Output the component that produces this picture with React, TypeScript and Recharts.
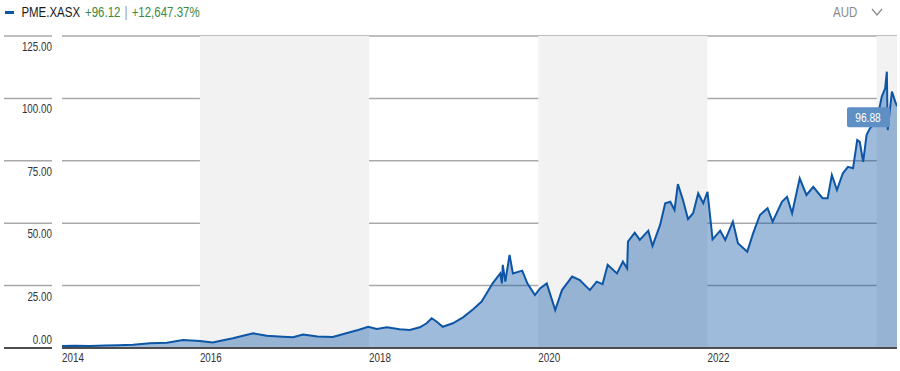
import React from "react";
import {
  AreaChart,
  Area,
  XAxis,
  YAxis,
  CartesianGrid,
  ReferenceArea,
  ReferenceDot,
} from "recharts";

// Decimal-year dates and closing prices (AUD)
const years: number[] = [
  2014.37, 2014.52, 2014.7, 2014.88, 2015.03, 2015.21, 2015.41, 2015.61, 2015.8,
  2016.0, 2016.15, 2016.39, 2016.63, 2016.79, 2016.98, 2017.1, 2017.22, 2017.39,
  2017.57, 2017.74, 2017.87, 2017.99, 2018.09, 2018.21, 2018.36, 2018.48,
  2018.6, 2018.68, 2018.74, 2018.8, 2018.87, 2018.99, 2019.11, 2019.23, 2019.33,
  2019.39, 2019.46, 2019.55, 2019.57, 2019.58, 2019.61, 2019.66, 2019.7,
  2019.81, 2019.87, 2019.96, 2020.02, 2020.1, 2020.2, 2020.28, 2020.4, 2020.49,
  2020.61, 2020.69, 2020.76, 2020.82, 2020.93, 2021.0, 2021.05, 2021.06,
  2021.14, 2021.2, 2021.3, 2021.35, 2021.44, 2021.5, 2021.56, 2021.61, 2021.65,
  2021.71, 2021.77, 2021.83, 2021.89, 2021.95, 2022.0, 2022.06, 2022.15,
  2022.21, 2022.3, 2022.36, 2022.47, 2022.54, 2022.62, 2022.71, 2022.77,
  2022.88, 2022.94, 2023.0, 2023.09, 2023.17, 2023.25, 2023.36, 2023.42,
  2023.47, 2023.53, 2023.6, 2023.66, 2023.72, 2023.77, 2023.8, 2023.84, 2023.88,
  2023.92, 2024.0, 2024.06, 2024.1, 2024.12, 2024.13, 2024.16, 2024.18, 2024.22,
  2024.24,
];

const prices: number[] = [
  0.76, 0.9, 0.8, 1.0, 1.1, 1.3, 1.9, 2.1, 3.2,
  2.8, 2.2, 3.9, 5.9, 4.9, 4.5, 4.3, 5.4, 4.6,
  4.4, 6.0, 7.2, 8.5, 7.6, 8.3, 7.5, 7.2,
  8.3, 9.9, 11.9, 10.5, 8.5, 9.9, 12.3, 15.5, 18.6,
  21.9, 25.9, 29.9, 25.9, 33.3, 26.6, 37.3, 29.9,
  31.0, 25.9, 21.2, 23.9, 25.9, 15.2, 23.2, 28.6, 27.2,
  23.2, 26.6, 25.6, 33.3, 29.9, 34.6, 31.9, 42.6,
  46.2, 43.3, 47.0, 40.9, 49.3, 58.0, 58.6, 55.3, 65.7,
  59.3, 51.6, 54.0, 62.0, 58.0, 62.6, 43.5, 47.0,
  43.3, 50.6, 42.0, 38.6, 46.0, 53.3, 56.0, 50.6,
  58.6, 60.6, 54.0, 68.0, 61.3, 64.6, 60.0, 60.0,
  69.3, 63.3, 70.0, 72.6, 72.0, 83.3, 82.6, 74.6, 85.3,
  88.0, 90.7, 100.7, 104.0, 110.7, 87.3, 96.7, 102.7, 98.6,
  96.88,
];

const yTicks: number[] = [0, 25, 50, 75, 100, 125];
const xTicks: number[] = [2014.37, 2016, 2018, 2020, 2022];
const xTickLabels: string[] = ["2014", "2016", "2018", "2020", "2022"];
const shadedBands: [number, number][] = [
  [2016, 2018],
  [2020, 2022],
  [2024, 2024.24],
];

const ticker = "PME.XASX";
const changeAbs = "+96.12";
const changePct = "+12,647.37%";
const currency = "AUD";

const data = years.map((t, i) => ({ t, price: prices[i] }));
const last = data[data.length - 1];

const FONT = "'Liberation Sans', Arial, sans-serif";
const SX = 0.82; // horizontal squeeze to mimic a narrow face
const LINE = "#0d56a6";

const NarrowText = ({ x, y, anchor, size, fill, children }: any) => (
  <text
    transform={`translate(${x},${y}) scale(${SX},1)`}
    textAnchor={anchor}
    fontSize={size}
    fill={fill}
    fontFamily={FONT}
  >
    {children}
  </text>
);

const YTick = (props: any) => {
  const { y, payload } = props;
  const isZero = payload.value === 0;
  return (
    <g>
      <line
        x1={4}
        x2={52}
        y1={y}
        y2={y}
        stroke={isZero ? "#4d4d4d" : "#a9a9a9"}
        strokeWidth={isZero ? 2 : 1.5}
      />
      <NarrowText x={52} y={isZero ? y - 4 : y + 15} anchor="end" size={12} fill="#333">
        {payload.value.toFixed(2)}
      </NarrowText>
    </g>
  );
};

const XTick = (props: any) => {
  const { x, payload } = props;
  const idx = xTicks.indexOf(payload.value);
  return (
    <NarrowText x={x} y={362} anchor="start" size={12} fill="#333">
      {xTickLabels[idx]}
    </NarrowText>
  );
};

const LastBox = (props: any) => {
  const { cx, cy } = props;
  return (
    <g>
      <rect x={cx - 50} y={cy + 1} width={43} height={20} rx={2} fill="#5e8fc5" />
      <NarrowText x={cx - 29} y={cy + 15.5} anchor="middle" size={12.5} fill="#ffffff">
        {last.price.toFixed(2)}
      </NarrowText>
    </g>
  );
};

export default function App() {
  return (
    <div
      style={{
        position: "absolute",
        left: 0,
        top: 0,
        width: 900,
        height: 371,
        background: "#fff",
        overflow: "hidden",
        fontFamily: FONT,
      }}
    >
      <div
        style={{
          position: "absolute",
          left: 5,
          top: 3,
          height: 18,
          display: "flex",
          alignItems: "center",
          fontSize: 14,
          whiteSpace: "nowrap",
          transform: `scaleX(${SX})`,
          transformOrigin: "0 0",
        }}
      >
        <span
          style={{
            display: "inline-block",
            width: 11,
            height: 3,
            background: LINE,
            marginRight: 9,
          }}
        />
        <span style={{ color: "#1a1a1a", marginRight: 6 }}>{ticker}</span>
        <span style={{ color: "#3b8a3f" }}>{changeAbs}</span>
        <span style={{ color: "#999", margin: "0 5px" }}>|</span>
        <span style={{ color: "#3b8a3f" }}>{changePct}</span>
      </div>
      <div
        style={{
          position: "absolute",
          left: 833,
          top: 3,
          height: 18,
          display: "flex",
          alignItems: "center",
          fontSize: 14,
          color: "#8a8a8a",
        }}
      >
        <span
          style={{
            display: "inline-block",
            transform: `scaleX(${SX})`,
            transformOrigin: "0 50%",
            width: 24,
          }}
        >
          {currency}
        </span>
        <svg width={12} height={8} style={{ marginLeft: 14 }}>
          <polyline points="1,1 6,7 11,1" fill="none" stroke="#8a8a8a" strokeWidth={1.2} />
        </svg>
      </div>
      <div style={{ position: "absolute", left: 0, top: 0 }}>
        <AreaChart
          width={900}
          height={371}
          data={data}
          margin={{ top: 36, right: 3, bottom: 0, left: 0 }}
        >
          {shadedBands.map(([a, b], i) => (
            <ReferenceArea
              key={i}
              x1={a}
              x2={b}
              y1={0}
              y2={125}
              fill="#f2f2f2"
              fillOpacity={1}
              stroke="none"
              ifOverflow="hidden"
            />
          ))}
          <CartesianGrid horizontal vertical={false} stroke="#a9a9a9" strokeWidth={1.5} />
          <XAxis
            type="number"
            dataKey="t"
            domain={[years[0], years[years.length - 1]]}
            ticks={xTicks}
            tick={<XTick />}
            tickLine={false}
            axisLine={{ stroke: "#4d4d4d", strokeWidth: 2 }}
            height={23}
            allowDataOverflow
          />
          <YAxis
            type="number"
            domain={[0, 125]}
            ticks={yTicks}
            tick={<YTick />}
            tickLine={false}
            axisLine={false}
            width={62}
          />
          <Area
            type="linear"
            dataKey="price"
            stroke={LINE}
            strokeWidth={2}
            fill={LINE}
            fillOpacity={0.4}
            isAnimationActive={false}
            dot={false}
            activeDot={false}
          />
          <ReferenceDot x={last.t} y={last.price} r={0} shape={<LastBox />} />
        </AreaChart>
      </div>
    </div>
  );
}
